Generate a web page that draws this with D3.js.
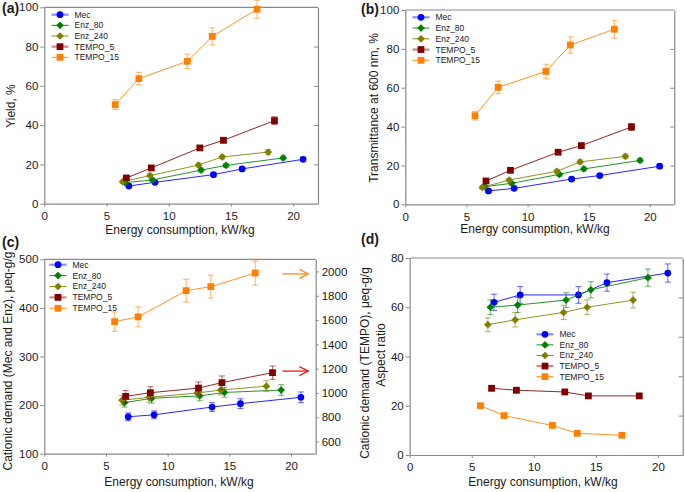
<!DOCTYPE html>
<html><head><meta charset="utf-8">
<script src="https://cdn.jsdelivr.net/npm/d3@7"></script>
<style>
body{margin:0;background:#fff}
svg{display:block}
text{font-family:"Liberation Sans",Arial,sans-serif;fill:#1a1a1a}
</style>
</head><body>
<svg id="chart" width="685" height="492"></svg>
<script>
// ---------------- DATA ----------------
const seriesNames = ["Mec", "Enz_80", "Enz_240", "TEMPO_5", "TEMPO_15"];
const xTickValues = [0, 5, 10, 15, 20];
const yieldTicks = [0, 20, 40, 60, 80, 100];
const transTicks = [0, 20, 40, 60, 80, 100];
const cationicLeftTicks = [100, 200, 300, 400, 500];
const cationicRightTicks = [600, 800, 1000, 1200, 1400, 1600, 1800, 2000];
const aspectTicks = [0, 20, 40, 60, 80];

// energy consumption (kW/kg) per series
const energyMec = [6.8, 8.9, 13.6, 15.9, 20.8];
const energyEnz80 = [6.5, 8.7, 12.6, 14.6, 19.2];
const energyEnz240 = [6.3, 8.5, 12.4, 14.3, 18.0];
const energyTempo5 = [6.6, 8.6, 12.5, 14.4, 18.5];
const energyTempo15 = [5.7, 7.6, 11.5, 13.5, 17.1];

// (a) Yield, %
const yieldMec = [9.0, 10.9, 14.8, 17.7, 22.6];
const yieldMecErr = [0.8, 0.8, 0.8, 0.9, 1.0];
const yieldEnz80 = [10.7, 12.1, 17.1, 19.5, 23.3];
const yieldEnz80Err = [0.8, 0.8, 1.0, 1.0, 1.0];
const yieldEnz240 = [11.2, 14.3, 19.7, 23.8, 26.3];
const yieldEnz240Err = [0.8, 0.9, 1.0, 1.0, 1.3];
const yieldTempo5 = [13.1, 18.2, 28.4, 32.3, 42.3];
const yieldTempo5Err = [1.0, 1.0, 1.1, 1.3, 2.0];
const yieldTempo15 = [50.4, 63.7, 72.5, 85.2, 99.0];
const yieldTempo15Err = [2.5, 3.2, 3.7, 4.4, 4.6];

// (b) Transmittance at 600 nm, %
const transMec = [6.9, 8.2, 13.0, 14.8, 19.6];
const transMecErr = [0.7, 0.7, 0.8, 0.8, 0.9];
const transEnz80 = [9.1, 10.8, 15.4, 18.2, 22.6];
const transEnz80Err = [0.8, 0.8, 0.9, 1.0, 1.0];
const transEnz240 = [8.7, 12.5, 17.0, 21.8, 24.7];
const transEnz240Err = [0.8, 0.9, 1.0, 1.0, 1.1];
const transTempo5 = [12.0, 17.5, 26.8, 30.2, 39.8];
const transTempo5Err = [1.0, 1.0, 1.0, 1.2, 1.8];
const transTempo15 = [45.6, 60.2, 68.4, 82.0, 90.1];
const transTempo15Err = [2.2, 3.2, 3.7, 4.2, 4.6];

// (c) Cationic demand, µeq-g/g (Mec/Enz on left axis, TEMPO on right axis)
const cationMec = [176, 180, 196, 203, 216];
const cationMecErr = [8, 8, 9, 10, 11];
const cationEnz80 = [205, 214, 219, 226, 231];
const cationEnz80Err = [9, 10, 10, 10, 11];
const cationEnz240 = [210, 216, 225, 231, 239];
const cationEnz240Err = [10, 10, 10, 10, 11];
const cationTempo5 = [972, 1002, 1040, 1085, 1167];
const cationTempo5Err = [48, 50, 50, 55, 55];
const cationTempo15 = [1587, 1626, 1842, 1875, 1987];
const cationTempo15Err = [80, 82, 94, 94, 100];
const arrowTargets = [1980, 1180]; // TEMPO_15, TEMPO_5 arrows (right axis)

// (d) Aspect ratio
const aspectMec = [62.0, 65.0, 65.0, 70.0, 73.9];
const aspectMecErr = [3.3, 3.4, 3.4, 3.5, 3.7];
const aspectEnz80 = [60.0, 60.9, 62.9, 67.1, 72.0];
const aspectEnz80Err = [3.0, 3.0, 3.0, 3.3, 3.5];
const aspectEnz240 = [52.9, 54.9, 57.9, 60.0, 62.9];
const aspectEnz240Err = [2.8, 2.9, 2.9, 3.0, 3.2];
const aspectTempo5 = [27.1, 26.3, 25.6, 24.0, 24.0];
const aspectTempo5Err = [1.0, 1.0, 1.0, 0.8, 0.8];
const aspectTempo15 = [20.0, 16.0, 12.0, 8.8, 8.0];
const aspectTempo15Err = [0.4, 0.4, 0.4, 0.4, 0.4];

// ---------------- STYLE / LAYOUT ----------------
const colors = ["#0000ff", "#008000", "#808000", "#800000", "#ff7f00"];
const symbols = [d3.symbolCircle, "diamond", "diamond", d3.symbolSquare, d3.symbolSquare];
const energyAll = [energyMec, energyEnz80, energyEnz240, energyTempo5, energyTempo15];
const axisColor = "#8a8a8a";

const svg = d3.select("#chart");

function markerPath(i) {
  const s = symbols[i];
  if (s === "diamond") return d3.symbol(d3.symbolSquare, 30)();
  if (s === d3.symbolCircle) return d3.symbol(d3.symbolCircle, 36)();
  return d3.symbol(d3.symbolSquare, 46)();
}
function markerRot(i) { return symbols[i] === "diamond" ? " rotate(45)" : ""; }

function drawPanel(p) {
  const g = svg.append("g");
  const x = d3.scaleLinear().domain([0, 22]).range([p.l, p.r]);
  const y = d3.scaleLinear().domain(p.yDomain).range([p.b, p.t]);
  const y2 = p.y2Domain ? d3.scaleLinear().domain(p.y2Domain).range([p.b, p.t]) : null;

  // frame
  g.append("line").attr("x1", p.l).attr("x2", p.r).attr("y1", p.t).attr("y2", p.t)
    .attr("stroke", axisColor).attr("stroke-width", 1.2);

  // axes
  const styleAxis = sel => {
    sel.select(".domain").attr("stroke", axisColor).attr("stroke-width", 1.2);
    sel.selectAll(".tick line").attr("stroke", axisColor).attr("stroke-width", 1);
    sel.selectAll(".tick text").style("font-size", "11.5px").attr("fill", "#1a1a1a");
  };
  g.append("g").attr("transform", `translate(0,${p.b})`)
    .call(d3.axisBottom(x).tickValues(xTickValues).tickSizeInner(3).tickSizeOuter(0).tickPadding(3))
    .call(styleAxis).call(s => s.selectAll(".tick text").attr("dy", "0.9em"));
  g.append("g").attr("transform", `translate(${p.l},0)`)
    .call(d3.axisLeft(y).tickValues(p.yTicks).tickSizeInner(4).tickSizeOuter(0).tickPadding(2))
    .call(styleAxis);
  if (y2) {
    g.append("g").attr("transform", `translate(${p.r},0)`)
      .call(d3.axisRight(y2).tickValues(cationicRightTicks).tickFormat(d3.format("d"))
        .tickSizeInner(3).tickSizeOuter(0).tickPadding(3))
      .call(styleAxis);
  } else {
    const yr = d3.scaleLinear().domain(p.rightTickDomain).range([p.b, p.t]);
    g.append("g").attr("transform", `translate(${p.r},0)`)
      .call(d3.axisLeft(yr).tickValues(p.rightTicks).tickSizeInner(4).tickSizeOuter(0).tickFormat(""))
      .call(styleAxis);
  }

  // series
  p.series.forEach((s, i) => {
    const ys = s.right ? y2 : y;
    const xs = energyAll[i];
    const pts = s.v.map((v, k) => ({ x: xs[k], v, e: s.e[k] }));
    const c = colors[i];
    const eb = g.append("g").attr("stroke", c).attr("stroke-opacity", 0.55).attr("stroke-width", 1.1);
    pts.forEach(d => {
      const cx = x(d.x), y1 = ys(d.v - d.e), y2v = ys(d.v + d.e);
      eb.append("line").attr("x1", cx).attr("x2", cx).attr("y1", y1).attr("y2", y2v);
      eb.append("line").attr("x1", cx - 3).attr("x2", cx + 3).attr("y1", y1).attr("y2", y1);
      eb.append("line").attr("x1", cx - 3).attr("x2", cx + 3).attr("y1", y2v).attr("y2", y2v);
    });
    g.append("path").datum(pts)
      .attr("d", d3.line().x(d => x(d.x)).y(d => ys(d.v)))
      .attr("fill", "none").attr("stroke", c).attr("stroke-width", 1).attr("stroke-opacity", 0.85);
    g.selectAll(null).data(pts).join("path")
      .attr("d", markerPath(i))
      .attr("transform", d => `translate(${x(d.x)},${ys(d.v)})` + markerRot(i))
      .attr("fill", c);
  });

  // legend
  const L = p.legend;
  seriesNames.forEach((name, i) => {
    const yy = L.y + i * L.dy;
    const c = colors[i];
    const light = (i === 0 || i === 3);
    g.append("line").attr("x1", L.x).attr("x2", L.x + 17).attr("y1", yy).attr("y2", yy)
      .attr("stroke", c).attr("stroke-width", light ? 2.2 : 1).attr("stroke-opacity", light ? 0.45 : 0.9);
    g.append("path").attr("d", markerPath(i))
      .attr("transform", `translate(${L.x + 8.5},${yy})` + markerRot(i)).attr("fill", c);
    g.append("text").attr("x", L.x + 23).attr("y", yy).attr("dy", "0.35em")
      .style("font-size", "8.5px").text(name);
  });

  // titles
  g.append("text").attr("x", p.xTitle[0]).attr("y", p.xTitle[1]).attr("text-anchor", "middle")
    .style("font-size", "12px").text("Energy consumption, kW/kg");
  p.yTitles.forEach(t => {
    g.append("text").attr("transform", `translate(${t.x},${t.y}) rotate(-90)`)
      .attr("text-anchor", "middle").style("font-size", "12px").text(t.text);
  });
  g.append("text").attr("x", p.label[0]).attr("y", p.label[1])
    .style("font-size", "14px").style("font-weight", "bold").text(p.labelText);

  return { x, y, y2, g };
}

drawPanel({
  l: 44.3, r: 318, t: 7.3, b: 203.7, yDomain: [0, 100], yTicks: yieldTicks,
  rightTickDomain: [0, 100], rightTicks: [20, 40, 60, 80],
  series: [
    { v: yieldMec, e: yieldMecErr }, { v: yieldEnz80, e: yieldEnz80Err },
    { v: yieldEnz240, e: yieldEnz240Err }, { v: yieldTempo5, e: yieldTempo5Err },
    { v: yieldTempo15, e: yieldTempo15Err }],
  legend: { x: 51.5, y: 14.7, dy: 10.65 },
  xTitle: [180, 234], yTitles: [{ x: 15, y: 106, text: "Yield, %" }],
  label: [2, 13], labelText: "(a)"
});

drawPanel({
  l: 405.3, r: 674.3, t: 10, b: 204.3, yDomain: [0, 100], yTicks: transTicks,
  rightTickDomain: [0, 100], rightTicks: [20, 40, 60, 80],
  series: [
    { v: transMec, e: transMecErr }, { v: transEnz80, e: transEnz80Err },
    { v: transEnz240, e: transEnz240Err }, { v: transTempo5, e: transTempo5Err },
    { v: transTempo15, e: transTempo15Err }],
  legend: { x: 412.5, y: 17.3, dy: 10.75 },
  xTitle: [535, 233], yTitles: [{ x: 378, y: 108, text: "Transmittance at 600 nm, %" }],
  label: [361, 14], labelText: "(b)"
});

const pc = drawPanel({
  l: 44.3, r: 315.7, t: 259.3, b: 453.7, yDomain: [100, 500], yTicks: cationicLeftTicks,
  y2Domain: [500, 2100],
  series: [
    { v: cationMec, e: cationMecErr }, { v: cationEnz80, e: cationEnz80Err },
    { v: cationEnz240, e: cationEnz240Err }, { v: cationTempo5, e: cationTempo5Err, right: true },
    { v: cationTempo15, e: cationTempo15Err, right: true }],
  legend: { x: 49.5, y: 264.7, dy: 10.9 },
  xTitle: [179, 486],
  yTitles: [{ x: 12, y: 361, text: "Cationic demand (Mec and Enz), \u03bceq-g/g" },
            { x: 369, y: 363, text: "Cationic demand (TEMPO), \u03bceq-g/g" }],
  label: [2, 247], labelText: "(c)"
});

// arrows pointing to the right axis in (c)
const arrowColors = ["#ff8c1a", "#e01e1e"];
arrowTargets.forEach((v, i) => {
  const yy = pc.y2(v), x1 = pc.x(19.3), x2 = pc.x(21.4);
  const a = pc.g.append("g").attr("stroke", arrowColors[i]).attr("stroke-width", 1.3).attr("fill", "none");
  a.append("line").attr("x1", x1).attr("x2", x2).attr("y1", yy).attr("y2", yy);
  a.append("path").attr("d", `M${x2 - 9},${yy - 4.5}L${x2},${yy}L${x2 - 9},${yy + 4.5}`);
});

drawPanel({
  l: 409.7, r: 682.7, t: 258, b: 455, yDomain: [0, 80], yTicks: aspectTicks,
  rightTickDomain: [0, 100], rightTicks: [20, 40, 60, 80],
  series: [
    { v: aspectMec, e: aspectMecErr }, { v: aspectEnz80, e: aspectEnz80Err },
    { v: aspectEnz240, e: aspectEnz240Err }, { v: aspectTempo5, e: aspectTempo5Err },
    { v: aspectTempo15, e: aspectTempo15Err }],
  legend: { x: 536.5, y: 334.3, dy: 10.6 },
  xTitle: [543, 486], yTitles: [{ x: 385, y: 355, text: "Aspect ratio" }],
  label: [361, 244], labelText: "(d)"
});
</script>
</body></html>
